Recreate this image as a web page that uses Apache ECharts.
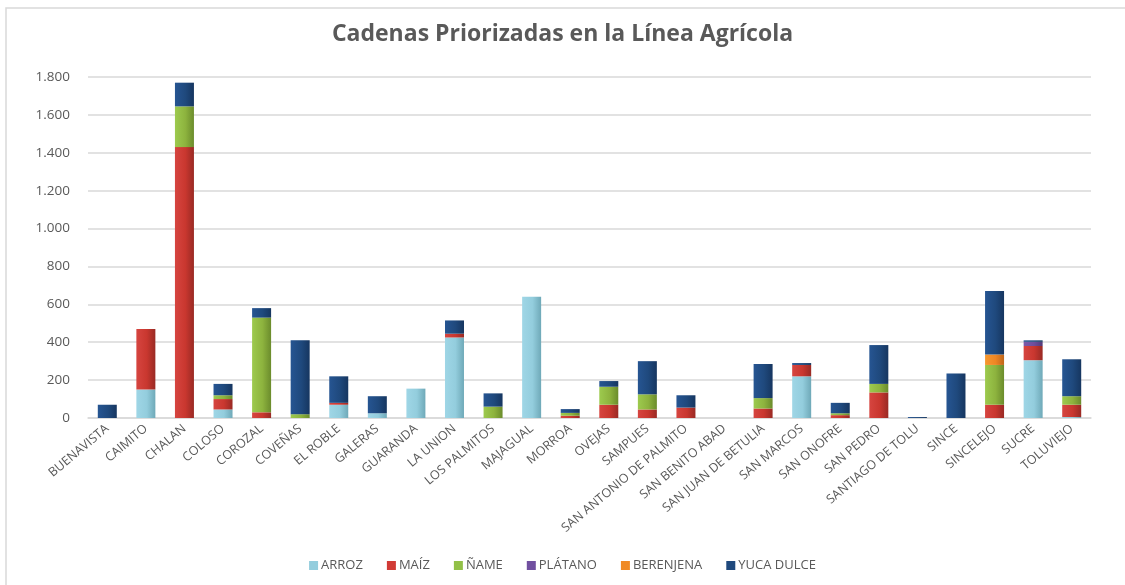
<!DOCTYPE html>
<html>
<head>
<meta charset="utf-8">
<script src="https://cdn.jsdelivr.net/npm/echarts@6/dist/echarts.min.js"></script>
<style>
  html, body { margin: 0; padding: 0; background: #fff; }
  #chart { width: 1125px; height: 585px; }
</style>
</head>
<body>
<div id="chart"></div>
<script>
// municipios
const categories = ['BUENAVISTA', 'CAIMITO', 'CHALAN', 'COLOSO', 'COROZAL', 'COVEÑAS', 'EL ROBLE',
  'GALERAS', 'GUARANDA', 'LA UNION', 'LOS PALMITOS', 'MAJAGUAL', 'MORROA', 'OVEJAS', 'SAMPUES',
  'SAN ANTONIO DE PALMITO', 'SAN BENITO ABAD', 'SAN JUAN DE BETULIA', 'SAN MARCOS', 'SAN ONOFRE',
  'SAN PEDRO', 'SANTIAGO DE TOLU', 'SINCE', 'SINCELEJO', 'SUCRE', 'TOLUVIEJO'];

const arroz     = [0, 150, 0, 45, 0, 0, 70, 25, 155, 425, 0, 640, 0, 0, 0, 0, 0, 0, 220, 0, 0, 0, 0, 0, 305, 5];
const maiz      = [0, 320, 1430, 55, 30, 0, 10, 0, 0, 20, 0, 0, 12, 70, 45, 55, 0, 50, 60, 15, 135, 0, 0, 70, 75, 65];
const name_     = [0, 0, 215, 20, 500, 20, 0, 0, 0, 0, 60, 0, 15, 95, 80, 0, 0, 55, 0, 10, 45, 0, 0, 210, 0, 45];
const platano   = [0, 0, 0, 0, 0, 0, 0, 0, 0, 0, 0, 0, 0, 0, 0, 0, 0, 0, 0, 0, 0, 0, 0, 0, 22, 0];
const berenjena = [0, 0, 0, 0, 0, 0, 0, 0, 0, 0, 0, 0, 0, 0, 0, 0, 0, 0, 0, 0, 0, 0, 0, 55, 0, 0];
const yuca      = [70, 0, 125, 60, 50, 390, 140, 90, 0, 70, 70, 0, 20, 30, 175, 65, 0, 180, 10, 55, 205, 5, 235, 335, 8, 195];

const yTicks = [0, 200, 400, 600, 800, 1000, 1200, 1400, 1600, 1800];

function grad(light, mid, dark) {
  return new echarts.graphic.LinearGradient(0, 0, 1, 0, [
    { offset: 0, color: light },
    { offset: 0.55, color: mid },
    { offset: 1, color: dark }
  ]);
}

const seriesDefs = [
  { name: 'ARROZ', data: arroz, legend: '#93CDDD', fill: grad('#9fd6e6', '#93CDDD', '#6fa9b8') },
  { name: 'MAÍZ', data: maiz, legend: '#D13B36', fill: grad('#d64540', '#C9372F', '#992a24') },
  { name: 'ÑAME', data: name_, legend: '#92C047', fill: grad('#9dca4e', '#8DB33E', '#6b8c2c') },
  { name: 'PLÁTANO', data: platano, legend: '#7150A0', fill: grad('#7c5aa9', '#6E4E9C', '#533a78') },
  { name: 'BERENJENA', data: berenjena, legend: '#F08A24', fill: grad('#f6982f', '#EE8624', '#bf661a') },
  { name: 'YUCA DULCE', data: yuca, legend: '#1F497D', fill: grad('#265592', '#1F497D', '#163660') }
];

const chart = echarts.init(document.getElementById('chart'));

const option = {
  backgroundColor: '#fff',
  animation: false,
  title: {
    text: 'Cadenas Priorizadas en la Línea Agrícola',
    left: 'center',
    top: 18,
    textStyle: { fontFamily: 'Open Sans', fontSize: 23, fontWeight: 'bold', color: '#595959' }
  },
  graphic: [{
    type: 'rect',
    shape: { x: 6, y: 8, width: 1200, height: 700 },
    style: { fill: 'none', stroke: '#d9d9d9', lineWidth: 1.5 },
    silent: true
  }],
  legend: {
    bottom: 8,
    left: 'center',
    itemWidth: 9,
    itemHeight: 9,
    itemGap: 24,
    icon: 'rect',
    textStyle: { fontFamily: 'Open Sans', fontSize: 13, color: '#595959', padding: [0, 0, 0, -2] },
    data: seriesDefs.map(s => ({ name: s.name, itemStyle: { color: s.legend } }))
  },
  grid: { left: 88, right: 34, top: 77, bottom: 167 },
  xAxis: {
    type: 'category',
    data: categories,
    axisLine: { lineStyle: { color: '#d9d9d9', width: 1.5 } },
    axisTick: { show: false },
    axisLabel: {
      interval: 0,
      rotate: 40,
      margin: 9,
      fontFamily: 'Open Sans',
      fontSize: 12.5,
      color: '#595959'
    }
  },
  yAxis: {
    type: 'value',
    min: 0,
    max: 1800,
    interval: 200,
    axisLine: { show: false },
    axisTick: { show: false },
    splitLine: { lineStyle: { color: '#d9d9d9', width: 1.5 } },
    axisLabel: {
      margin: 18,
      fontFamily: 'Open Sans',
      fontSize: 13.5,
      color: '#595959',
      formatter: v => yTicks.includes(v) ? v.toLocaleString('de-DE') : ''
    }
  },
  series: seriesDefs.map(s => ({
    name: s.name,
    type: 'bar',
    stack: 'total',
    barWidth: 19,
    data: s.data,
    itemStyle: { color: s.fill }
  }))
};

chart.setOption(option);
window.addEventListener('resize', () => chart.resize());
</script>
</body>
</html>
